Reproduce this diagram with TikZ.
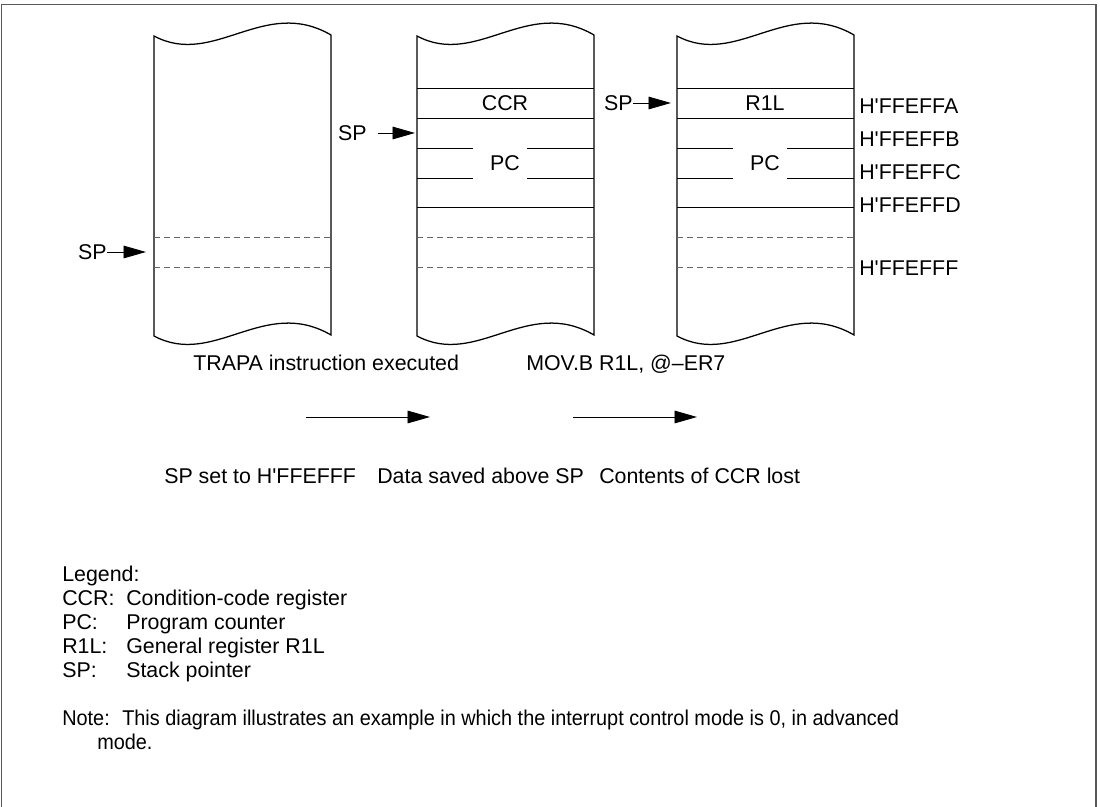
\documentclass[tikz,border=0pt]{standalone}
\usepackage{fontspec}
\setmainfont{Liberation Sans}
\newfontfamily\notefont[FakeStretch=0.93]{Liberation Sans}
\usetikzlibrary{arrows.meta}

\begin{document}
\begin{tikzpicture}[x=0.025cm,y=-0.025cm,
    font=\fontsize{15.2}{18}\selectfont,
    colline/.style={line width=0.9pt},
    cellline/.style={line width=0.7pt},
    dashline/.style={line width=0.6pt, gray!80!black, dash pattern=on 4.5pt off 2.6pt},
    sparrow/.style={line width=0.7pt, -{Triangle[length=16pt,width=9pt]}},
    txt/.style={inner sep=0pt, anchor=west},
    btxt/.style={inner sep=0pt, anchor=base west}]
  \useasboundingbox (0,0) rectangle (1100,807);
  % frame
  \draw[gray!70!black, line width=0.8pt] (1.5,807) -- (1.5,4.5) -- (1096,4.5) -- (1096,807);

  % stack columns with torn edges
  \foreach \cx in {154,417,677} {
    \draw[colline] (\cx,36) .. controls (\cx+60,68) and (\cx+110,-4) .. (\cx+177,35)
      -- (\cx+177,335) .. controls (\cx+110,296) and (\cx+60,368) .. (\cx,336) -- cycle;
    \draw[dashline] (\cx,237) -- (\cx+177,237);
    \draw[dashline] (\cx,267) -- (\cx+177,267);
  }
  \foreach \cx in {417,677} {
    \foreach \y in {88,118,207}
      \draw[cellline] (\cx,\y) -- (\cx+177,\y);
    \foreach \y in {148,178} {
      \draw[cellline] (\cx,\y) -- (\cx+56,\y);
      \draw[cellline] (\cx+110,\y) -- (\cx+177,\y);
    }
  }

  % cell contents
  \node (ccr) at (505,103) {CCR};
  \node (pc2) at (505,163) {PC};
  \node (r1l) at (765,103) {R1L};
  \node (pc3) at (765,163) {PC};

  % addresses
  \foreach \y/\lab in {106/A,139/B,172/C,205/D,268/F}
    \node[txt] (adr\lab) at (859,\y) {H\textquotesingle FFEFF\lab};

  % stack pointers
  \node[txt, anchor=east] (sp1) at (107,252) {SP};
  \coordinate (sp1tip) at (146,252);
  \draw[sparrow] (sp1) -- (sp1tip);
  \node[txt, anchor=east] (sp2) at (367,133) {SP};
  \coordinate (sp2tip) at (415,133);
  \draw[sparrow, shorten <=8] (sp2) -- (sp2tip);
  \node[txt, anchor=east] (sp3) at (633,103) {SP};
  \coordinate (sp3tip) at (671,103);
  \draw[sparrow] (sp3) -- (sp3tip);

  % transitions
  \node[btxt] (trapa) at (193,371) {TRAPA instruction executed};
  \node[btxt] (mov) at (526,371) {MOV.B R1L, @\textendash ER7};
  \coordinate (a1s) at (306,417);
  \coordinate (a1e) at (430,417);
  \coordinate (a2s) at (573,417);
  \coordinate (a2e) at (697,417);
  \draw[sparrow] (a1s) -- (a1e);
  \draw[sparrow] (a2s) -- (a2e);

  \node[btxt] (st1) at (164,483) {SP set to H\textquotesingle FFEFFF};
  \node[btxt] (st2) at (377,483) {Data saved above SP};
  \node[btxt] (st3) at (599,483) {Contents of CCR lost};

  % legend
  \node[btxt] (legend) at (62,581) {Legend:};
  \foreach \y/\key/\desc in {605/CCR:/Condition-code register, 629/PC:/Program counter,
      653/R1L:/General register R1L, 677/SP:/Stack pointer} {
    \node[btxt] (key\y) at (62,\y) {\key};
    \node[btxt] (desc\y) at (126,\y) {\desc};
  }
  \node[btxt] (note) at (62,725) {\notefont Note:};
  \node[btxt] (note1) at (122,725) {\notefont This diagram illustrates an example in which the interrupt control mode is 0, in advanced};
  \node[btxt] (note2) at (97,749) {\notefont mode.};
\end{tikzpicture}
\end{document}
